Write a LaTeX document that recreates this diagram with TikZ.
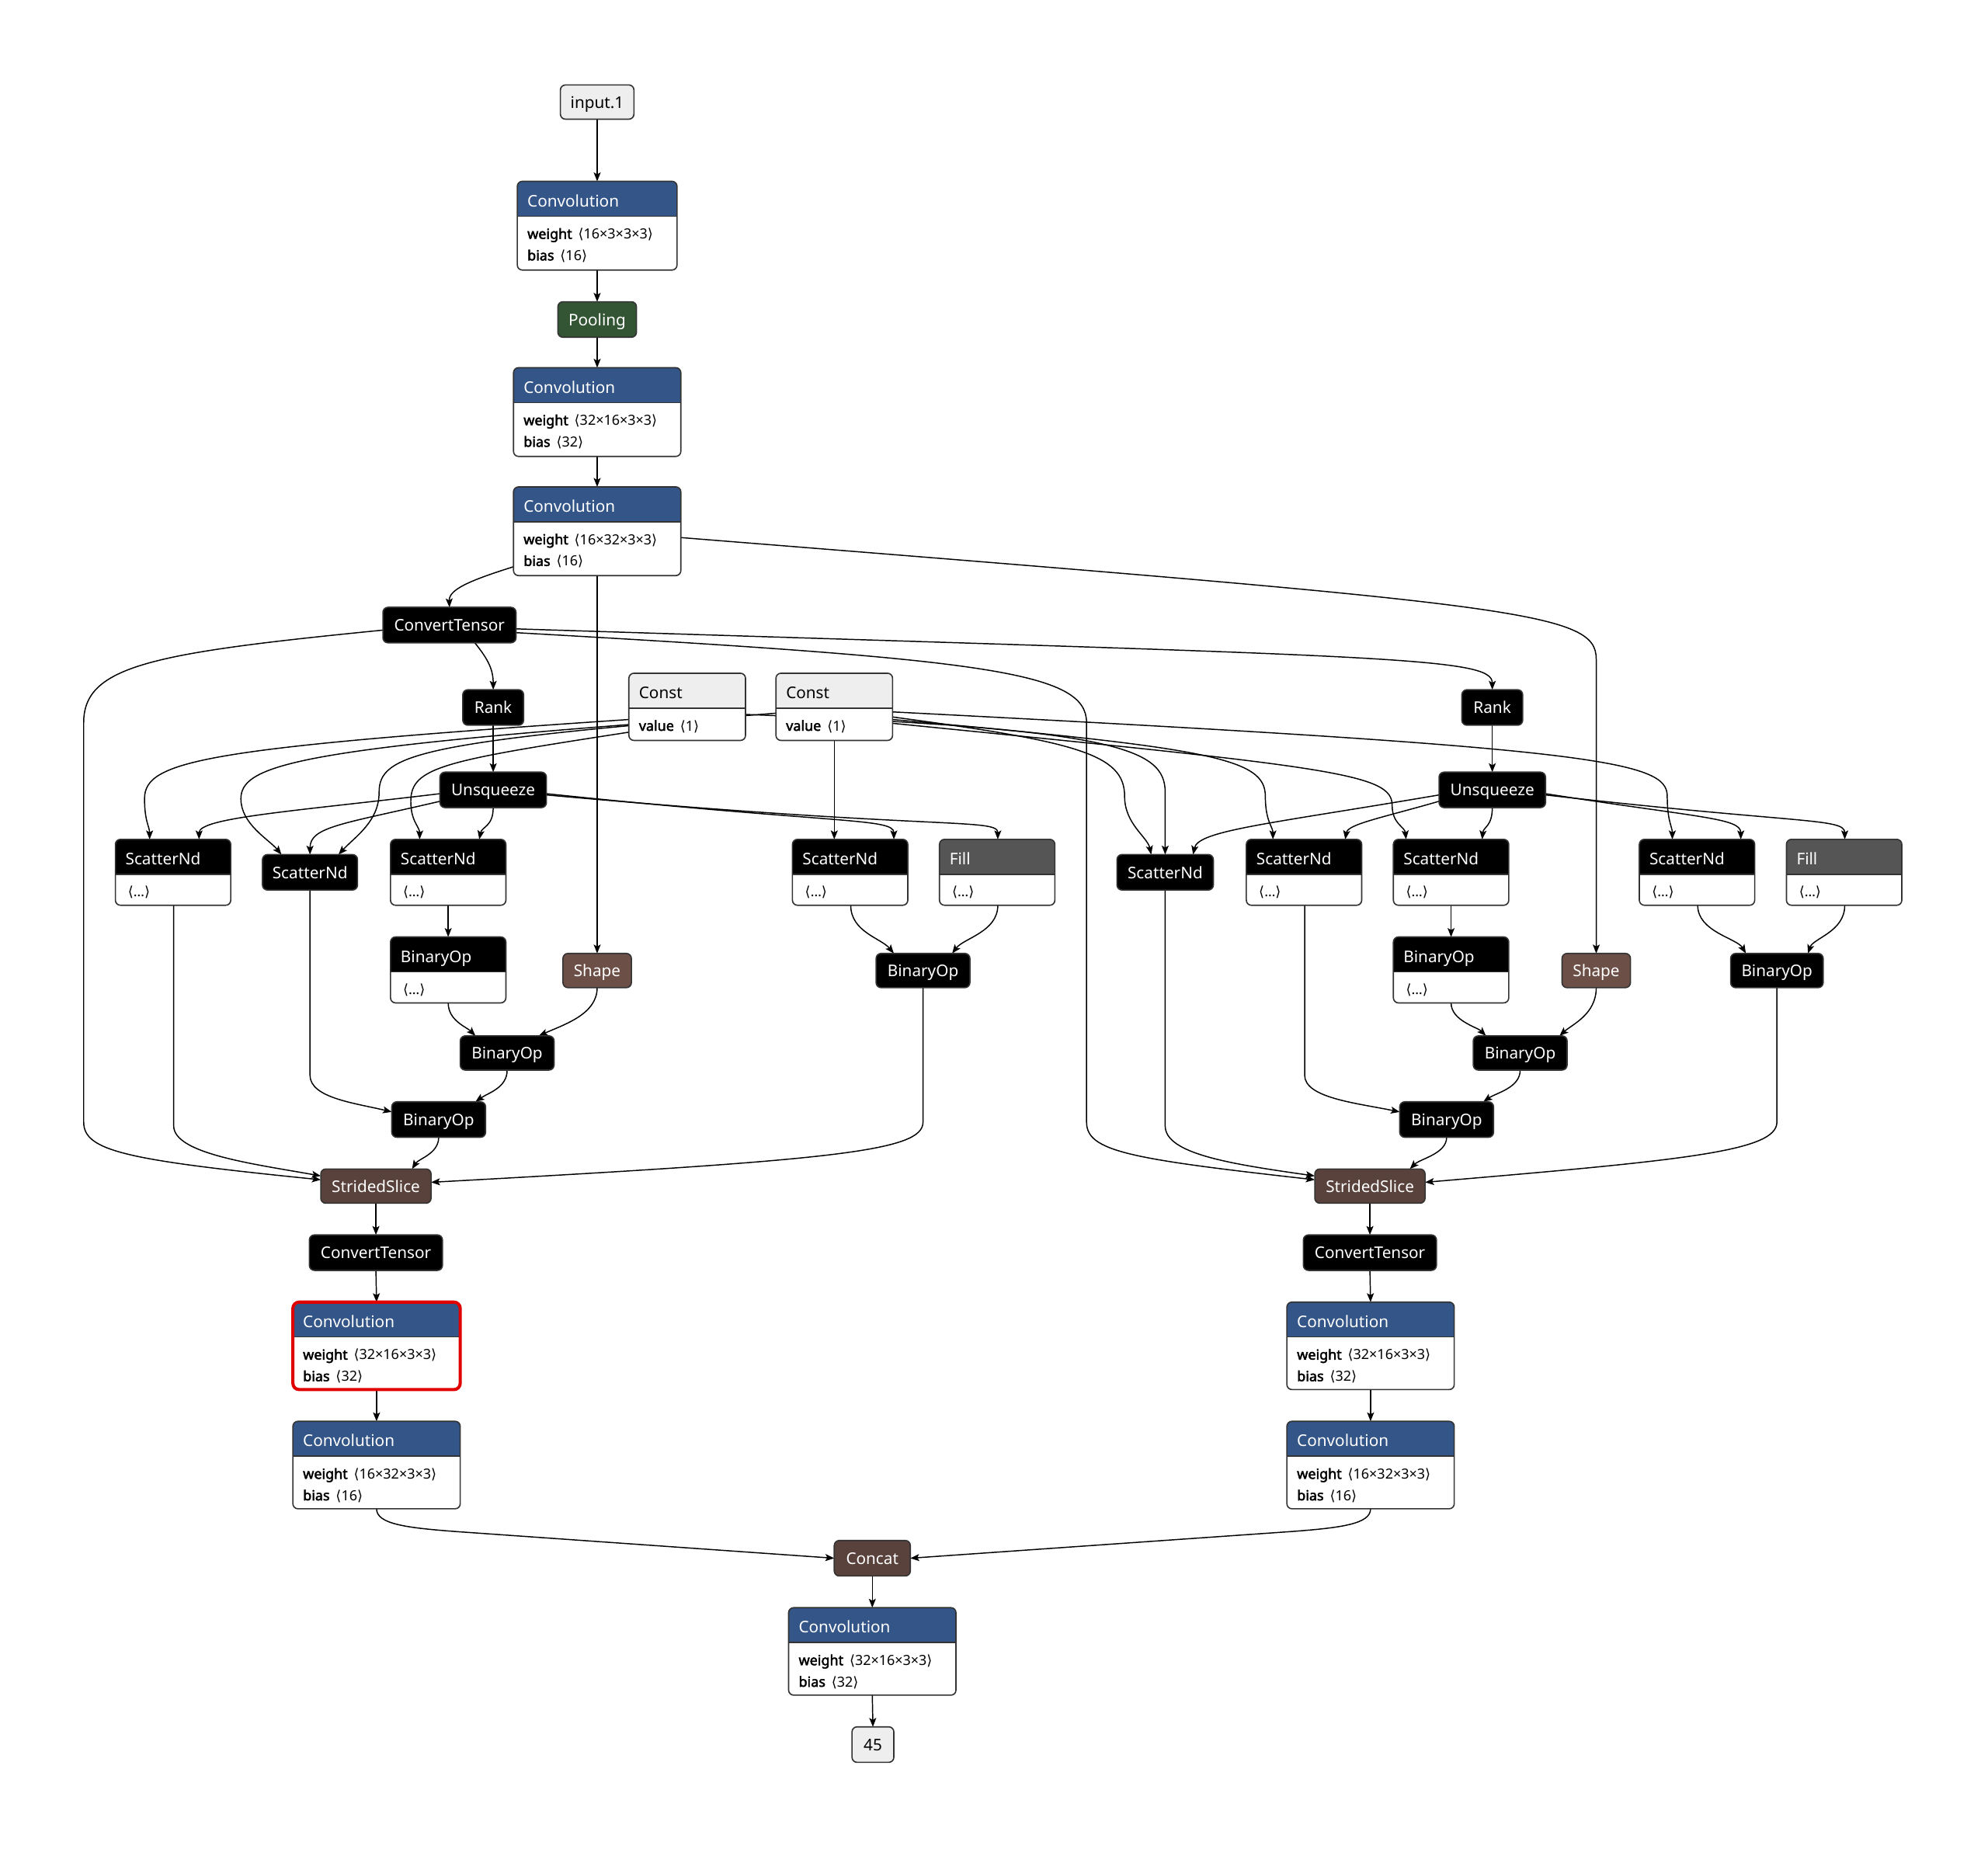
\documentclass[tikz,border=0pt]{standalone}
\usepackage{fontspec}
\setmainfont{Noto Sans}[AutoFakeBold=2.5]
\newfontfamily\dvs{DejaVu Sans}
\usetikzlibrary{calc,arrows.meta}
\pgfdeclarelayer{back}
\pgfdeclarelayer{bg}
\pgfsetlayers{back,bg,main}
\definecolor{convblue}{HTML}{335588}
\definecolor{poolgreen}{HTML}{335533}
\definecolor{shapebrown}{HTML}{6C4F47}
\definecolor{tensorbrown}{HTML}{59423B}
\definecolor{fillgray}{HTML}{555555}
\definecolor{lightgray}{HTML}{EEEEEE}
\definecolor{bordr}{HTML}{333333}
\definecolor{selred}{HTML}{E00000}
\newcommand\ttl{\fontsize{12.7}{15}\selectfont}
\newcommand\bdy{\fontsize{11}{17}\selectfont}
\newcommand\la{\hspace{2pt}{\dvs\char"27E8}}
\newcommand\ra{{\dvs\char"27E9}}
\tikzset{
 bx/.style={draw=bordr, line width=1pt, rounded corners=4pt, fill=white, inner sep=0pt, outer sep=0pt},
 edg/.style={draw=black, line width=0.9pt, -{Stealth[length=7pt,width=5.5pt,inset=1.5pt]}},
 lbl/.style={inner sep=0pt, outer sep=0pt, anchor=base west},
}
\newcommand\bnode[9]{%
 \node[bx, anchor=north west, minimum width=#4pt, minimum height=#5pt,
   path picture={\fill[#6, sharp corners] ([yshift=2pt]path picture bounding box.north west) rectangle ([yshift=-27.5pt]path picture bounding box.north east);
   \draw[bordr, line width=1pt, sharp corners] ([yshift=-27.5pt]path picture bounding box.north west) -- ([yshift=-27.5pt]path picture bounding box.north east);}] (#1) at (#2,#3) {};
 \node[lbl, text=#7, font=\ttl] (#1t) at ([xshift=8pt,yshift=-20pt]#1.north west) {#8};
 \node[lbl, font=\bdy, align=left, anchor=north west] (#1b) at ([xshift=8pt,yshift=-37pt]#1.north west) {#9};
}
\newcommand\snode[8]{\node[bx, fill=#6, text=#7, font=\ttl, text height=11pt, text depth=1.5pt, minimum width=#4pt, minimum height=#5pt] (#1) at (#2,#3) {#8};}
\begin{document}
\begin{tikzpicture}[x=1pt,y=-1pt]
\begin{pgfonlayer}{back}
\fill[white] (0,0) rectangle (1568,1458);
\end{pgfonlayer}
\useasboundingbox (0,0) rectangle (1568,1458);

\snode{inp}{471}{80.5}{58}{27}{lightgray}{black}{input.1}
\bnode{c1}{408}{143}{126}{70}{convblue}{white}{Convolution}{\textbf{weight} \la16×3×3×3\ra\\\textbf{bias} \la16\ra}
\snode{pool}{471}{252}{62}{28}{poolgreen}{white}{Pooling}
\bnode{c2}{405}{290}{132}{70}{convblue}{white}{Convolution}{\textbf{weight} \la32×16×3×3\ra\\\textbf{bias} \la32\ra}
\bnode{c3}{405}{384}{132}{70}{convblue}{white}{Convolution}{\textbf{weight} \la16×32×3×3\ra\\\textbf{bias} \la16\ra}
\snode{ct}{354.5}{493}{105}{28}{black}{white}{ConvertTensor}
\snode{rkL}{389}{558}{48}{28}{black}{white}{Rank}
\bnode{k1}{496}{531}{92}{53}{lightgray}{black}{Const}{\textbf{value} \la1\ra}
\bnode{k2}{612}{531}{92}{53}{lightgray}{black}{Const}{\textbf{value} \la1\ra}
\snode{rkR}{1177}{558}{48}{28}{black}{white}{Rank}
\snode{uqL}{389}{623}{84}{28}{black}{white}{Unsqueeze}
\snode{uqR}{1177}{623}{84}{28}{black}{white}{Unsqueeze}
\bnode{sA}{91}{662}{91}{52}{black}{white}{ScatterNd}{\la…\ra}
\snode{sB}{244.5}{688}{75}{28}{black}{white}{ScatterNd}
\bnode{sC}{308}{662}{91}{52}{black}{white}{ScatterNd}{\la…\ra}
\bnode{sD}{625}{662}{91}{52}{black}{white}{ScatterNd}{\la…\ra}
\bnode{fL}{741}{662}{91}{52}{fillgray}{white}{Fill}{\la…\ra}
\snode{sE}{919}{688}{76}{28}{black}{white}{ScatterNd}
\bnode{sF}{983}{662}{91}{52}{black}{white}{ScatterNd}{\la…\ra}
\bnode{sG}{1099}{662}{91}{52}{black}{white}{ScatterNd}{\la…\ra}
\bnode{sH}{1293}{662}{91}{52}{black}{white}{ScatterNd}{\la…\ra}
\bnode{fR}{1409}{662}{91}{52}{fillgray}{white}{Fill}{\la…\ra}
\bnode{bL1}{308}{739}{91}{52}{black}{white}{BinaryOp}{\la…\ra}
\snode{shL}{471}{765.5}{54}{27}{shapebrown}{white}{Shape}
\snode{bM}{728}{765.5}{74}{27}{black}{white}{BinaryOp}
\bnode{bR1}{1099}{739}{91}{52}{black}{white}{BinaryOp}{\la…\ra}
\snode{shR}{1259}{765.5}{54}{27}{shapebrown}{white}{Shape}
\snode{bR2}{1401.5}{765.5}{73}{27}{black}{white}{BinaryOp}
\snode{bL2}{400}{830.5}{74}{27}{black}{white}{BinaryOp}
\snode{bR3}{1199}{830.5}{74}{27}{black}{white}{BinaryOp}
\snode{bL3}{346}{883}{74}{28}{black}{white}{BinaryOp}
\snode{bR4}{1141}{883}{74}{28}{black}{white}{BinaryOp}
\snode{ssL}{296.5}{935.5}{87}{27}{tensorbrown}{white}{StridedSlice}
\snode{ssR}{1080.5}{935.5}{87}{27}{tensorbrown}{white}{StridedSlice}
\snode{ctL}{296.5}{988}{105}{28}{black}{white}{ConvertTensor}
\snode{ctR}{1080.5}{988}{105}{28}{black}{white}{ConvertTensor}
\bnode{c4L}{231}{1027}{132}{69}{convblue}{white}{Convolution}{\textbf{weight} \la32×16×3×3\ra\\\textbf{bias} \la32\ra}
\bnode{c4R}{1015}{1027}{132}{69}{convblue}{white}{Convolution}{\textbf{weight} \la32×16×3×3\ra\\\textbf{bias} \la32\ra}
\bnode{c5L}{231}{1121}{132}{69}{convblue}{white}{Convolution}{\textbf{weight} \la16×32×3×3\ra\\\textbf{bias} \la16\ra}
\bnode{c5R}{1015}{1121}{132}{69}{convblue}{white}{Convolution}{\textbf{weight} \la16×32×3×3\ra\\\textbf{bias} \la16\ra}
\snode{cat}{688}{1229}{60}{28}{tensorbrown}{white}{Concat}
\bnode{c6}{622}{1268}{132}{69}{convblue}{white}{Convolution}{\textbf{weight} \la32×16×3×3\ra\\\textbf{bias} \la32\ra}
\snode{out}{688.5}{1376}{33}{28}{lightgray}{black}{45}
\draw[selred, line width=2.5pt, rounded corners=5pt] (c4L.north west) rectangle (c4L.south east);

\begin{pgfonlayer}{bg}
\draw[edg] (inp.south) -- (c1.north);
\draw[edg] (c1.south) -- (pool.north);
\draw[edg] (pool.south) -- (c2.north);
\draw[edg] (c2.south) -- (c3.north);
\draw[edg] ($(c3.south west)+(0,-7)$) .. controls (370,458) and (354,465) .. (ct.north);
\draw[edg] (c3.south) -- (shL.north);
\draw[edg] ($(c3.east)+(0,5)$) .. controls (1200,477) and (1259,482) .. (1259,520) -- (shR.north);
\draw[edg] ($(ct.south)+(20,0)$) .. controls (385,520) and (389,528) .. (rkL.north);
\draw[edg] ($(ct.east)+(0,3)$) .. controls (1100,518) and (1177,518) .. (rkR.north);
\draw[edg] ($(ct.east)+(0,6)$) .. controls (780,520) and (857,530) .. (857,570) -- (857,885) .. controls (857,908) and (890,914) .. ($(ssR.west)+(0,-5)$);
\draw[edg] ($(ct.west)+(0,4)$) .. controls (120,515) and (66,525) .. (66,570) -- (66,885) .. controls (66,908) and (100,915) .. ($(ssL.west)+(0,-5)$);
\draw[edg] (rkL.south) -- (uqL.north);
\draw[edg] (rkR.south) -- (uqR.north);
% Unsqueeze left
\draw[edg] ($(uqL.west)+(0,3)$) .. controls (230,640) and (157,645) .. ($(sA.north west)+(66,0)$);
\draw[edg] ($(uqL.west)+(0,9)$) .. controls (270,650) and (244.5,652) .. (sB.north);
\draw[edg] (uqL.south) .. controls (389,652) and (380,652) .. ($(sC.north west)+(70,0)$);
\draw[edg] ($(uqL.east)+(0,3)$) .. controls (660,650) and (705,645) .. ($(sD.north west)+(80,0)$);
\draw[edg] ($(uqL.east)+(0,4)$) .. controls (740,655) and (787,645) .. ($(fL.north west)+(46,0)$);
% Unsqueeze right
\draw[edg] ($(uqR.west)+(0,4)$) .. controls (1000,650) and (945,655) .. ($(sE.north)+(22,0)$);
\draw[edg] ($(uqR.west)+(0,9)$) .. controls (1090,645) and (1063,650) .. ($(sF.north west)+(78,0)$);
\draw[edg] (uqR.south) .. controls (1177,652) and (1170,652) .. ($(sG.north west)+(70,0)$);
\draw[edg] ($(uqR.east)+(0,3)$) .. controls (1340,645) and (1373,645) .. ($(sH.north west)+(80,0)$);
\draw[edg] ($(uqR.east)+(0,4)$) .. controls (1420,650) and (1455,645) .. ($(fR.north west)+(46,0)$);
% Const edges
\draw[edg] ($(k1.west)+(0,10)$) .. controls (160,590) and (114,600) .. (114,630) .. controls (114,648) and (118,652) .. ($(sA.north west)+(27,0)$);
\draw[edg] ($(k1.west)+(0,14)$) .. controls (230,592) and (190,605) .. (190,630) .. controls (190,650) and (212,662) .. ($(sB.north west)+(15,0)$);
\draw[edg] ($(k2.west)+(0,5)$) .. controls (330,585) and (299,595) .. (299,625) .. controls (299,648) and (280,660) .. ($(sB.north east)+(-15,0)$);
\draw[edg] ($(k1.west)+(0,20)$) .. controls (350,600) and (324,605) .. (324,632) .. controls (324,648) and (331,652) .. ($(sC.north west)+(23,0)$);
\draw[edg] (k2.south) -- ($(sD.north west)+(33,0)$);
\draw[edg] ($(k2.east)+(0,8)$) .. controls (850,585) and (887,595) .. (887,628) .. controls (887,650) and (905,660) .. ($(sE.north)+(-11,0)$);
\draw[edg] ($(k1.east)+(0,6)$) .. controls (880,575) and (919,590) .. (919,625) -- (sE.north);
\draw[edg] ($(k2.east)+(0,10)$) .. controls (955,590) and (998,598) .. (998,628) .. controls (998,648) and (1004,652) .. ($(sF.north west)+(21,0)$);
\draw[edg] ($(k2.east)+(0,13)$) .. controls (1050,605) and (1098,610) .. (1098,635) .. controls (1098,650) and (1108,652) .. ($(sG.north west)+(10,0)$);
\draw[edg] ($(k2.east)+(0,4)$) .. controls (1260,590) and (1315,600) .. (1315,628) .. controls (1315,648) and (1319,652) .. ($(sH.north west)+(26,0)$);
% left lower
\draw[edg] ($(sA.south west)+(46,0)$) -- (137,888) .. controls (137,910) and (200,918) .. ($(ssL.west)+(0,-8)$);
\draw[edg] (sB.south) -- (244.5,848) .. controls (244.5,866) and (280,870) .. ($(bL3.west)+(0,-6)$);
\draw[edg] (sC.south) -- (bL1.north);
\draw[edg] (bL1.south) .. controls (353.5,805) and (368,810) .. ($(bL2.north west)+(12,0)$);
\draw[edg] (shL.south) .. controls (471,800) and (445,808) .. ($(bL2.north east)+(-12,0)$);
\draw[edg] (bL2.south) .. controls (400,858) and (385,862) .. ($(bL3.north east)+(-8,0)$);
\draw[edg] (bL3.south) .. controls (346,910) and (330,914) .. ($(ssL.north east)+(-15,0)$);
\draw[edg] ($(sD.south west)+(46,0)$) .. controls (671,735) and (695,740) .. ($(bM.north west)+(14,0)$);
\draw[edg] ($(fL.south west)+(46,0)$) .. controls (787,735) and (760,740) .. ($(bM.north east)+(-14,0)$);
\draw[edg] (bM.south) -- (728,885) .. controls (728,908) and (660,915) .. ($(ssL.east)+(0,-3)$);
% right lower
\draw[edg] (sE.south) -- (919,888) .. controls (919,910) and (970,918) .. ($(ssR.west)+(0,-8)$);
\draw[edg] ($(sF.south west)+(46,0)$) -- (1029,848) .. controls (1029,866) and (1070,870) .. ($(bR4.west)+(0,-6)$);
\draw[edg] (sG.south) -- (bR1.north);
\draw[edg] (bR1.south) .. controls (1144.5,805) and (1165,810) .. ($(bR3.north west)+(10,0)$);
\draw[edg] (shR.south) .. controls (1259,800) and (1240,808) .. ($(bR3.north east)+(-6,0)$);
\draw[edg] (bR3.south) .. controls (1199,858) and (1180,862) .. ($(bR4.north east)+(-8,0)$);
\draw[edg] (bR4.south) .. controls (1141,910) and (1120,914) .. ($(ssR.north east)+(-12,0)$);
\draw[edg] ($(sH.south west)+(46,0)$) .. controls (1339,735) and (1370,740) .. ($(bR2.north west)+(12,0)$);
\draw[edg] ($(fR.south west)+(46,0)$) .. controls (1455,735) and (1430,740) .. ($(bR2.north east)+(-12,0)$);
\draw[edg] (bR2.south) -- (1401.5,885) .. controls (1401.5,908) and (1330,915) .. ($(ssR.east)+(0,-3)$);
% bottom chain
\draw[edg] (ssL.south) -- (ctL.north);
\draw[edg] (ctL.south) -- (c4L.north);
\draw[edg] (c4L.south) -- (c5L.north);
\draw[edg] (ssR.south) -- (ctR.north);
\draw[edg] (ctR.south) -- (c4R.north);
\draw[edg] (c4R.south) -- (c5R.north);
\draw[edg] (c5L.south) .. controls (297,1202) and (320,1205) .. (360,1208) -- (cat.west);
\draw[edg] (c5R.south) .. controls (1081,1202) and (1058,1205) .. (1018,1208) -- (cat.east);
\draw[edg] (cat.south) -- (c6.north);
\draw[edg] (c6.south) -- (out.north);
\end{pgfonlayer}
\end{tikzpicture}
\end{document}
